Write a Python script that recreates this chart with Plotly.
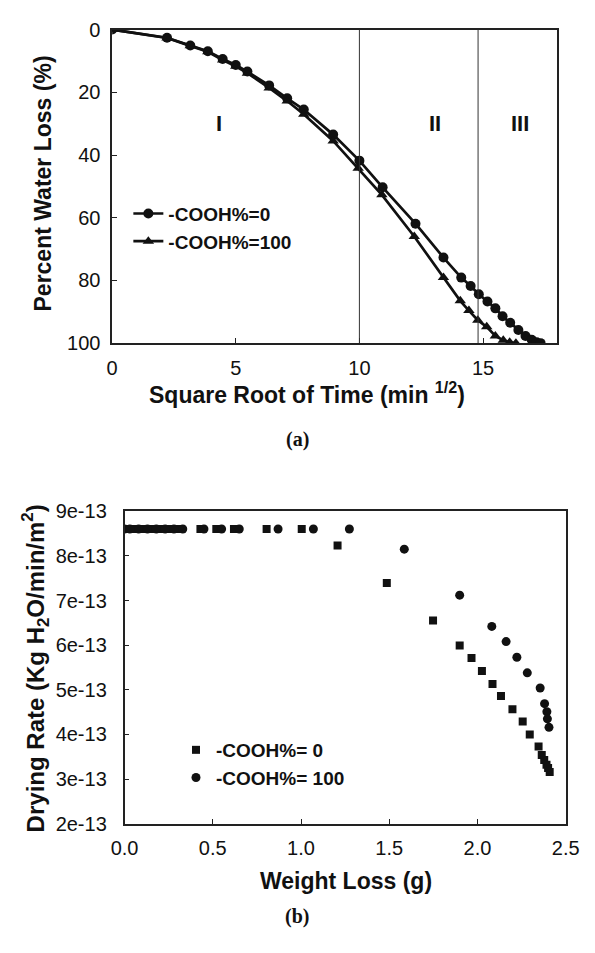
import plotly.graph_objects as go

W, H = 595, 953

# ---------- Panel (a) data ----------
sqrt_t_cooh0 = [0, 2.22, 3.16, 3.87, 4.47, 5.0, 5.47, 6.35, 7.08, 7.75, 8.94, 10.0, 10.94,
                12.27, 13.4, 14.12, 14.5, 14.83, 15.18, 15.5, 15.79, 16.1, 16.43, 16.72,
                16.97, 17.17, 17.33]
loss_cooh0 = [0, 2.6, 5.1, 6.9, 9.4, 11.3, 13.4, 17.8, 21.9, 25.5, 33.5, 41.8, 50.3,
              61.9, 72.7, 79.1, 81.8, 84.4, 86.7, 88.9, 91.4, 93.5, 95.8, 97.7,
              98.9, 99.7, 100]
sqrt_t_cooh100 = [0, 2.22, 3.16, 3.87, 4.47, 5.0, 5.47, 6.35, 7.08, 7.75, 8.94, 9.95, 10.91,
                  12.22, 13.4, 14.08, 14.43, 14.79, 15.15, 15.5, 15.82, 16.08, 16.33]
loss_cooh100 = [0, 2.7, 5.2, 7.1, 9.7, 11.7, 13.9, 18.6, 22.8, 27.0, 35.5, 44.2, 52.7,
                66.0, 79.1, 86.5, 89.6, 92.7, 94.8, 97.7, 99.1, 99.7, 100]
stage_bounds = [10.0, 14.8]
stage_labels = ["I", "II", "III"]
stage_label_x = [4.34, 13.07, 16.5]
stage_label_y = 30
a_xticks = [0, 5, 10, 15]
a_yticks = [0, 20, 40, 60, 80, 100]

# ---------- Panel (b) data ----------
wl_cooh0 = [0.0, 0.05, 0.1, 0.15, 0.2, 0.25, 0.3, 0.43, 0.52, 0.62, 0.805, 1.004,
            1.207, 1.486, 1.748, 1.899, 1.966, 2.025, 2.085, 2.133, 2.198, 2.256,
            2.296, 2.346, 2.364, 2.378, 2.391, 2.4, 2.409]
rate_cooh0 = [8.6, 8.6, 8.6, 8.6, 8.6, 8.6, 8.6, 8.6, 8.6, 8.6, 8.6, 8.6,
              8.23, 7.39, 6.55, 5.99, 5.71, 5.42, 5.13, 4.86, 4.565, 4.29,
              4.0, 3.73, 3.54, 3.43, 3.32, 3.25, 3.16]
wl_cooh100 = [0.0, 0.03, 0.08, 0.13, 0.18, 0.23, 0.28, 0.33, 0.45, 0.55, 0.65, 0.87,
              1.07, 1.274, 1.585, 1.899, 2.081, 2.162, 2.223, 2.282, 2.355, 2.38,
              2.393, 2.396, 2.405]
rate_cooh100 = [8.6, 8.6, 8.6, 8.6, 8.6, 8.6, 8.6, 8.6, 8.6, 8.6, 8.6, 8.6,
                8.6, 8.6, 8.15, 7.12, 6.42, 6.08, 5.73, 5.38, 5.04, 4.69,
                4.51, 4.35, 4.16]
b_xticks = [0.0, 0.5, 1.0, 1.5, 2.0, 2.5]
b_xticktext = ["0.0", "0.5", "1.0", "1.5", "2.0", "2.5"]
b_yticks = [2, 3, 4, 5, 6, 7, 8, 9]
b_yticktext = ["2e-13", "3e-13", "4e-13", "5e-13", "6e-13", "7e-13", "8e-13", "9e-13"]
scale_b = 1e-13

SANS = "Liberation Sans, Arial, sans-serif"
SERIF = "Liberation Serif, Times New Roman, serif"
INK = "#111111"


def px_x(p):
    return p / W


def px_y(p):
    return 1 - p / H


fig = go.Figure()

fig.add_trace(go.Scatter(
    x=sqrt_t_cooh0, y=loss_cooh0, mode="lines+markers", name="<b>-COOH%=0</b>",
    line=dict(color=INK, width=2.7), marker=dict(symbol="circle", size=10, color=INK),
    xaxis="x", yaxis="y", legend="legend"))
fig.add_trace(go.Scatter(
    x=sqrt_t_cooh100, y=loss_cooh100, mode="lines+markers", name="<b>-COOH%=100</b>",
    line=dict(color=INK, width=2.7), marker=dict(symbol="triangle-up", size=10, color=INK),
    xaxis="x", yaxis="y", legend="legend"))

fig.add_trace(go.Scatter(
    x=wl_cooh0, y=[v * scale_b for v in rate_cooh0], mode="markers",
    name="<b>-COOH%= 0</b>",
    marker=dict(symbol="square", size=8, color=INK),
    xaxis="x2", yaxis="y2", legend="legend2"))
fig.add_trace(go.Scatter(
    x=wl_cooh100, y=[v * scale_b for v in rate_cooh100], mode="markers",
    name="<b>-COOH%= 100</b>",
    marker=dict(symbol="circle", size=9, color=INK),
    xaxis="x2", yaxis="y2", legend="legend2"))

shapes = []
for xb in stage_bounds:
    shapes.append(dict(type="line", xref="x", yref="y", x0=xb, x1=xb, y0=0, y1=100,
                       line=dict(color="#333333", width=1)))

annotations = []
for lab, lx in zip(stage_labels, stage_label_x):
    annotations.append(dict(x=lx, y=stage_label_y, xref="x", yref="y",
                            text="<b>" + lab + "</b>", showarrow=False,
                            xanchor="center", yanchor="middle",
                            font=dict(family=SANS, size=22, color=INK)))


def label(x, y, text, size, family=SANS, angle=0):
    return dict(x=px_x(x), y=px_y(y), xref="paper", yref="paper", text=text,
                showarrow=False, xanchor="center", yanchor="middle", textangle=angle,
                font=dict(family=family, size=size, color=INK))


annotations += [
    label(307, 391, "<b>Square Root of Time (min <sup>1/2</sup>)</b>", 23),
    label(30, 177, "<b>Percent Water Loss (%)</b>", 23, angle=-90),
    label(297, 439, "<b>(a)</b>", 20, family=SERIF),
    label(348, 891, "<b>Weight Loss (g)</b>", 23),
    label(23, 673, "<b>Drying Rate (Kg H<sub>2</sub>O/min/m<sup>2</sup>)</b>", 24, angle=-90),
    label(297, 927, "<b>(b)</b>", 20, family=SERIF),
]

axis_common = dict(showline=True, linecolor="#222222", linewidth=1.5, mirror=True,
                   ticks="inside", ticklen=5, tickcolor="#222222", showgrid=False,
                   zeroline=False, tickfont=dict(family=SANS, size=20, color=INK))

fig.update_layout(
    width=W, height=H, margin=dict(l=0, r=0, t=0, b=0),
    paper_bgcolor="white", plot_bgcolor="white", showlegend=True,
    xaxis=dict(domain=[px_x(103), px_x(570)], range=[0, 18], tickvals=a_xticks,
               anchor="y", ticklabelstandoff=6, **axis_common),
    yaxis=dict(domain=[px_y(340), px_y(19)], range=[100, 0], tickvals=a_yticks,
               anchor="x", ticklabelstandoff=6, **axis_common),
    xaxis2=dict(domain=[px_x(116), px_x(579)], range=[0, 2.5], tickvals=b_xticks,
                ticktext=b_xticktext, anchor="y2", ticklabelstandoff=5, **axis_common),
    yaxis2=dict(domain=[px_y(832), px_y(512)], range=[2e-13, 9e-13],
                tickvals=[v * scale_b for v in b_yticks], ticktext=b_yticktext,
                anchor="x2", ticklabelstandoff=12, **axis_common),
    legend=dict(x=px_x(120), y=px_y(188), xanchor="left", yanchor="top",
                bgcolor="rgba(0,0,0,0)", font=dict(family=SANS, size=19, color=INK),
                itemwidth=30, tracegroupgap=0),
    legend2=dict(x=px_x(170), y=px_y(737), xanchor="left", yanchor="top",
                 bgcolor="rgba(0,0,0,0)", font=dict(family=SANS, size=19, color=INK),
                 itemwidth=30, tracegroupgap=0),
    shapes=shapes, annotations=annotations,
)

fig.write_html("out.html")
